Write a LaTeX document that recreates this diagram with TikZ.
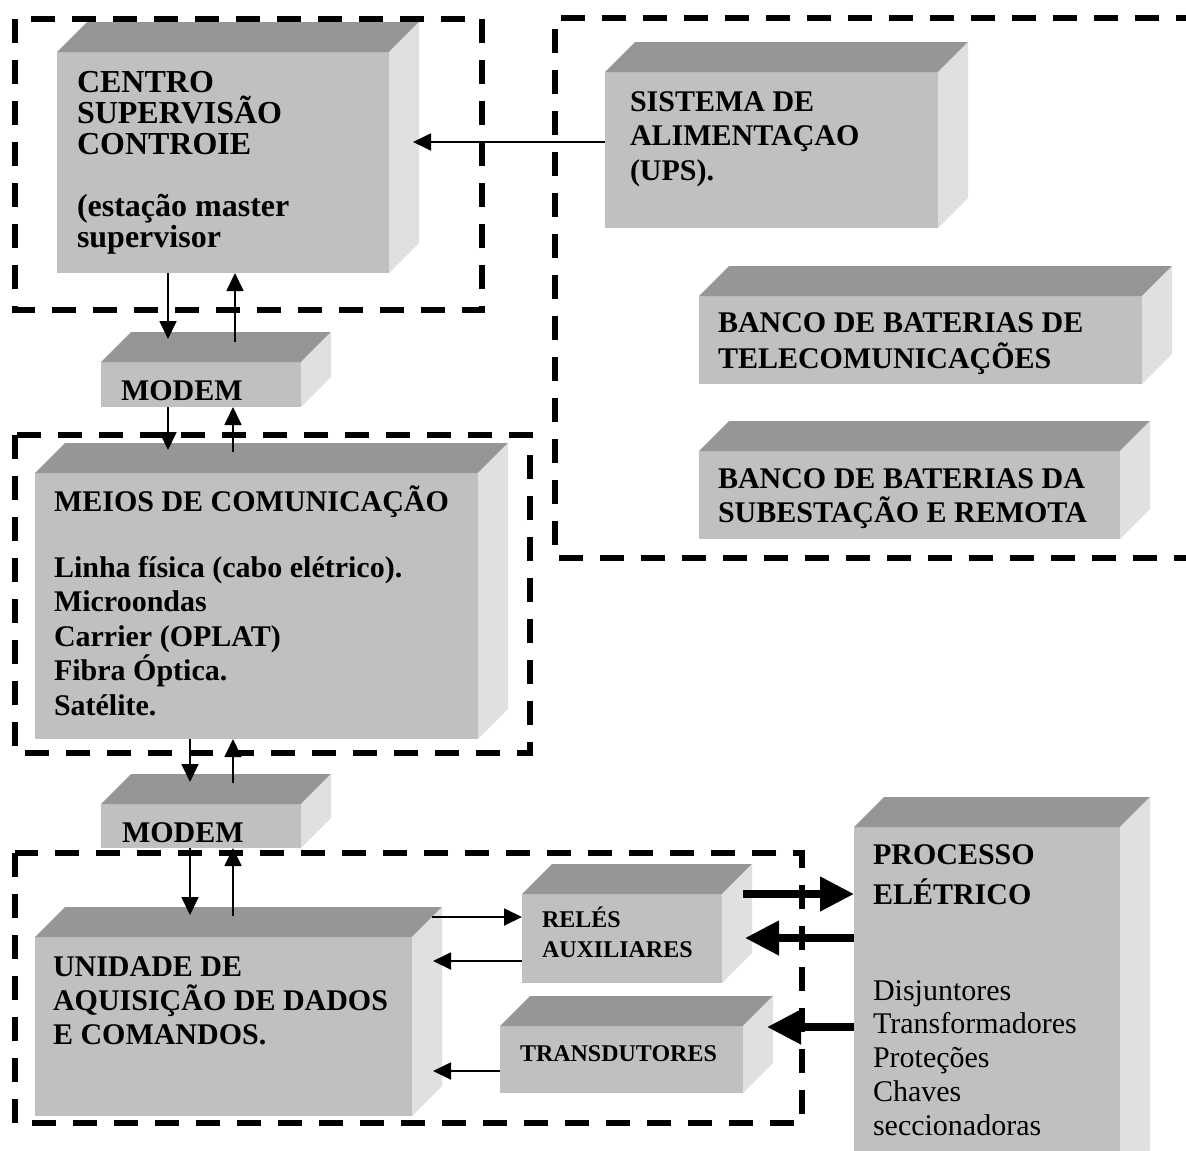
\documentclass[tikz,border=0pt]{standalone}
\usepackage{fontspec}
\setmainfont{Liberation Serif}
\usetikzlibrary{arrows.meta,calc}

\definecolor{frontgray}{HTML}{C0C0C0}
\definecolor{topgray}{HTML}{969696}
\definecolor{sidegray}{HTML}{E0E0E0}

% depth of the bevelled 3D blocks
\newcommand\cubdepth{30}
% left-aligned lines, baseline at the first line
\newcommand\rows[1]{\vtop{\lineskiplimit=-1000pt\halign{##\hfil\cr#1\crcr}}}
% 3D block: name, x1, y1, x2, y2 of the front face
\newcommand\cuboid[5]{%
  \pgfmathsetmacro\cubw{#4-#2}%
  \pgfmathsetmacro\cubh{#5-#3}%
  \node[front, minimum width=\cubw pt, minimum height=\cubh pt] (#1) at ({(#2+#4)/2},{(#3+#5)/2}) {};
  \fill[topgray] (#1.north west) -- ++(\cubdepth,-\cubdepth)
    -- ([shift={(\cubdepth,-\cubdepth)}]#1.north east) -- (#1.north east) -- cycle;
  \fill[sidegray] (#1.north east) -- ++(\cubdepth,-\cubdepth)
    -- ([shift={(\cubdepth,-\cubdepth)}]#1.south east) -- (#1.south east) -- cycle;
}

\tikzset{
  front/.style={fill=frontgray, draw=none, inner sep=0pt, outer sep=0pt},
  groupline/.style={line width=5.5pt, dash pattern=on 24pt off 17pt},
  arr/.style={line width=1.8pt, -{Triangle[length=18pt,width=17pt]}},
  bigarr/.style={line width=7.5pt, -{Triangle[length=34pt,width=33pt]}},
  txt/.style={inner sep=0pt, outer sep=0pt, anchor=base west,
    font=\fontsize{30}{34.5}\selectfont\bfseries},
}

\begin{document}
\begin{tikzpicture}[x=1pt,y=-1pt]
\useasboundingbox (0,0) rectangle (1186,1151);
\clip (0,0) rectangle (1186,1151);

% dashed groupings
\draw[groupline] (15,19) rectangle (482,310);
\draw[groupline] (15,435) rectangle (530,753);
\draw[groupline] (15,853) rectangle (802,1123);
\draw[groupline] (1200,18) -- (555,18) -- (555,558) -- (1200,558);

% blocks
\cuboid{centro}{57}{52}{389}{273}
\cuboid{modemA}{101}{362}{301}{407}
\cuboid{meios}{35}{473}{478}{739}
\cuboid{modemB}{101}{804}{301}{848}
\cuboid{unid}{35}{937}{412}{1116}
\cuboid{reles}{522}{894}{722}{983}
\cuboid{trans}{500}{1026}{743}{1093}
\cuboid{proc}{854}{827}{1120}{1180}
\cuboid{ups}{605}{72}{938}{228}
\cuboid{bancoA}{699}{296}{1142}{384}
\cuboid{bancoB}{699}{451}{1120}{539}

% block labels
\node[txt, font=\fontsize{32}{31}\selectfont\bfseries] (centro-text) at (77,92)
  {\rows{CENTRO\cr SUPERVISÃO\cr CONTROIE\cr\cr (estação master\cr supervisor}};
\node[txt] (modemA-text) at (121,400) {MODEM};
\node[txt] (meios-title) at (54,511) {MEIOS DE COMUNICAÇÃO};
\node[txt] (meios-list) at (54,577)
  {\rows{Linha física (cabo elétrico).\cr Microondas\cr Carrier (OPLAT)\cr Fibra Óptica.\cr Satélite.}};
\node[txt] (modemB-text) at (122,842) {MODEM};
\node[txt, font=\fontsize{30}{34}\selectfont\bfseries] (unid-text) at (53,976)
  {\rows{UNIDADE DE\cr AQUISIÇÃO DE DADOS\cr E COMANDOS.}};
\node[txt, font=\fontsize{24}{30}\selectfont\bfseries] (reles-text) at (542,927)
  {\rows{RELÉS\cr AUXILIARES}};
\node[txt, font=\fontsize{24}{30}\selectfont\bfseries] (trans-text) at (520,1061) {TRANSDUTORES};
\node[txt, font=\fontsize{30}{40}\selectfont\bfseries] (proc-title) at (873,864)
  {\rows{PROCESSO\cr ELÉTRICO}};
\node[txt, font=\fontsize{30}{33.75}\selectfont] (proc-list) at (873,1000)
  {\rows{Disjuntores\cr Transformadores\cr Proteções\cr Chaves\cr seccionadoras}};
\node[txt] (ups-text) at (630,111) {\rows{SISTEMA DE\cr ALIMENTAÇAO\cr (UPS).}};
\node[txt, font=\fontsize{30}{36}\selectfont\bfseries] (bancoA-text) at (718,332)
  {\rows{BANCO DE BATERIAS DE\cr TELECOMUNICAÇÕES}};
\node[txt, font=\fontsize{30}{34}\selectfont\bfseries] (bancoB-text) at (718,488)
  {\rows{BANCO DE BATERIAS DA\cr SUBESTAÇÃO E REMOTA}};

% connectors
\draw[arr] (ups.west |- 0,142) -- ($(centro.east |- 0,142)+(24,0)$);
\draw[arr] (centro.south -| 168,0) -- ($(modemA.north -| 168,0)+(0,-23)$);
\draw[arr] ($(modemA.north -| 235,0)+(0,-20)$) -- (centro.south -| 235,0);
\draw[arr] (modemA.south -| 168,0) -- ($(meios.north -| 168,0)+(0,-23)$);
\draw[arr] ($(meios.north -| 233,0)+(0,-21)$) -- (modemA.south -| 233,0);
\draw[arr] (meios.south -| 190,0) -- ($(modemB.north -| 190,0)+(0,-22)$);
\draw[arr] ($(modemB.north -| 233,0)+(0,-21)$) -- (meios.south -| 233,0);
\draw[arr] (modemB.south -| 190,0) -- ($(unid.north -| 190,0)+(0,-22)$);
\draw[arr] ($(unid.north -| 233,0)+(0,-21)$) -- (modemB.south -| 233,0);
\draw[arr] ($(unid.east |- 0,917)+(20,0)$) -- (reles.west |- 0,917);
\draw[arr] (reles.west |- 0,961) -- ($(unid.east |- 0,961)+(21,0)$);
\draw[arr] (trans.west |- 0,1071) -- ($(unid.east |- 0,1071)+(21,0)$);
\draw[bigarr] ($(reles.east |- 0,894)+(21,0)$) -- (proc.west |- 0,894);
\draw[bigarr] (proc.west |- 0,938) -- ($(reles.east |- 0,938)+(23,0)$);
\draw[bigarr] (proc.west |- 0,1027) -- ($(trans.east |- 0,1027)+(24,0)$);
\end{tikzpicture}
\end{document}
